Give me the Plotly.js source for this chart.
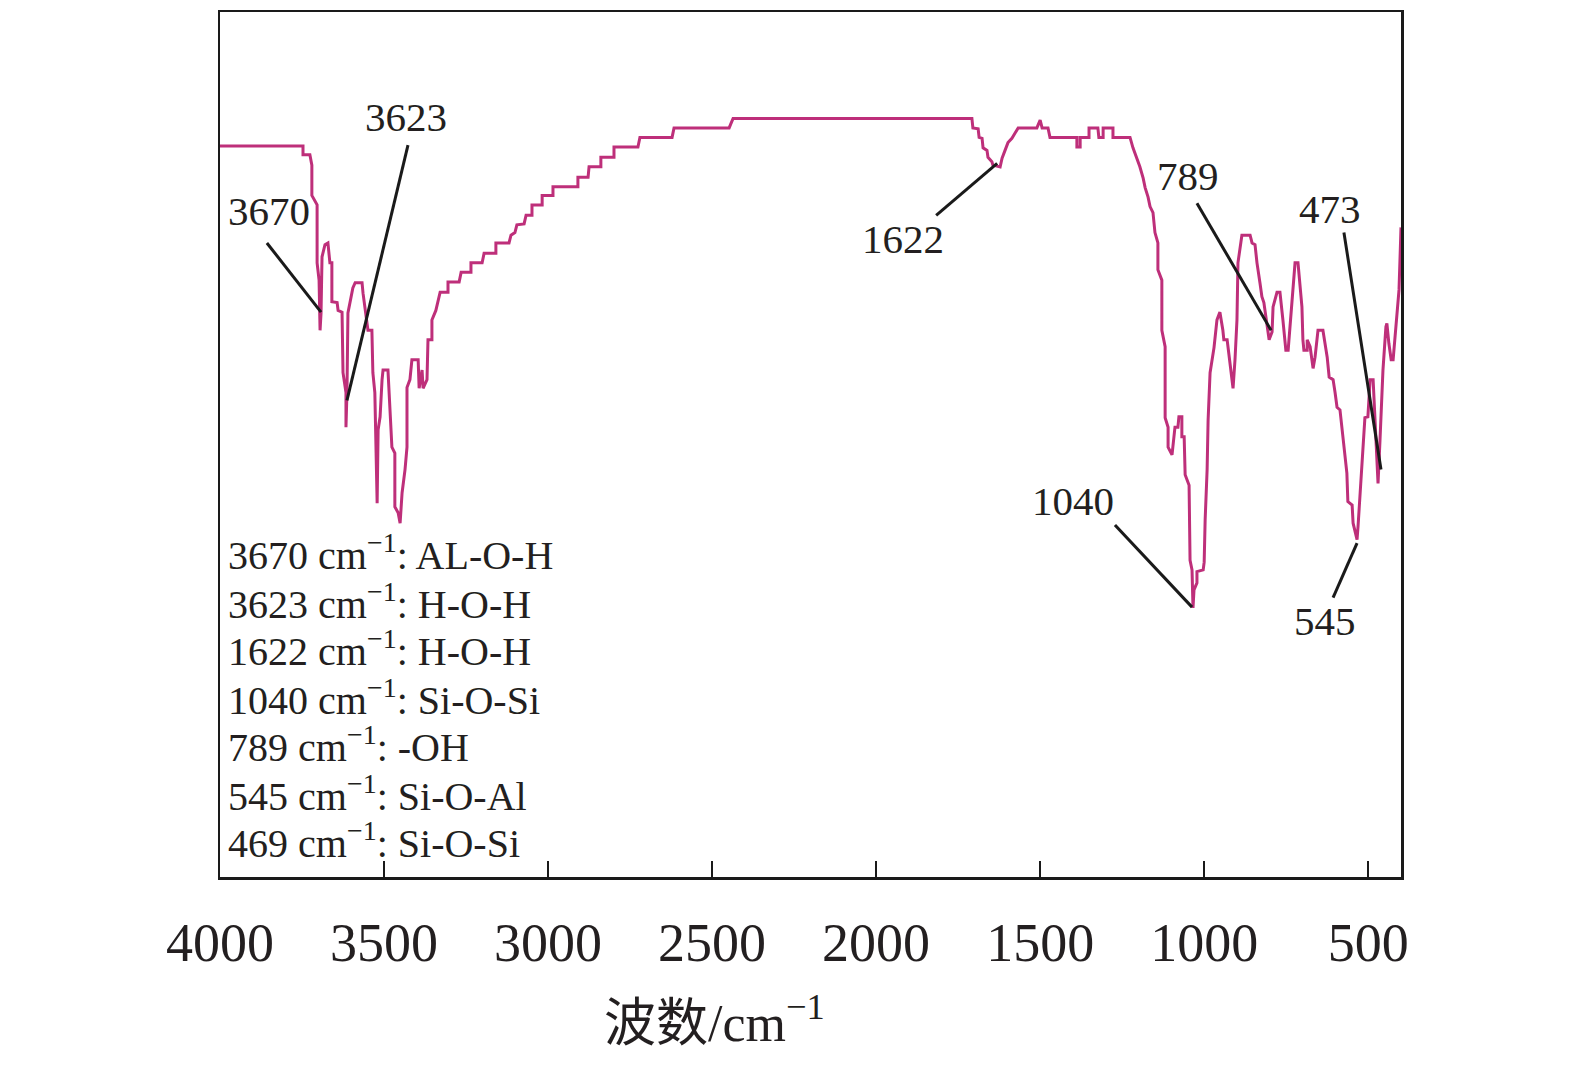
<!DOCTYPE html>
<html>
<head>
<meta charset="utf-8">
<script src="https://cdn.plot.ly/plotly-3.0.1.min.js"></script>
<style>
  html, body { margin: 0; padding: 0; background: #ffffff; }
  #chart { width: 1575px; height: 1073px; }
</style>
</head>
<body>
<div id="chart"></div>
<script>
// ---- Data ----
const wavenumber = [
  4000, 3747, 3747, 3726, 3720, 3720, 3704, 3704, 3698, 3695, 3695, 3692, 3689, 3680, 3671, 3665, 3659, 3659,
  3643, 3640, 3628, 3625, 3616, 3616, 3613, 3610, 3604, 3595, 3588, 3567, 3564, 3552, 3549, 3537, 3534, 3528,
  3521, 3518, 3512, 3506, 3503, 3488, 3485, 3476, 3467, 3467, 3457, 3451, 3445, 3436, 3430, 3430, 3421, 3415,
  3396, 3393, 3384, 3381, 3369, 3366, 3354, 3354, 3342, 3335, 3329, 3305, 3305, 3271, 3265, 3235, 3235, 3201,
  3195, 3159, 3159, 3119, 3113, 3101, 3095, 3073, 3067, 3049, 3049, 3018, 3018, 2985, 2985, 2909, 2909, 2878,
  2875, 2839, 2839, 2799, 2799, 2726, 2720, 2622, 2616, 2448, 2436, 1708, 1705, 1689, 1686, 1677, 1674, 1662,
  1659, 1647, 1644, 1622, 1616, 1607, 1598, 1586, 1577, 1567, 1510, 1500, 1494, 1476, 1470, 1388, 1388, 1378,
  1378, 1351, 1351, 1324, 1321, 1308, 1308, 1278, 1278, 1226, 1217, 1205, 1196, 1186, 1180, 1171, 1165, 1156,
  1150, 1141, 1141, 1129, 1129, 1119, 1119, 1110, 1110, 1098, 1095, 1089, 1080, 1077, 1068, 1068, 1061, 1058,
  1046, 1043, 1037, 1034, 1031, 1022, 1022, 1003, 1000, 997, 991, 988, 982, 973, 970, 961, 952, 943, 940, 930,
  921, 912, 906, 900, 897, 885, 860, 854, 845, 839, 830, 824, 818, 808, 802, 793, 790, 778, 769, 760, 751, 744,
  732, 723, 714, 702, 699, 696, 686, 686, 677, 668, 662, 653, 638, 632, 625, 619, 607, 601, 595, 586, 580, 571,
  565, 562, 549, 546, 534, 531, 525, 516, 510, 501, 494, 485, 482, 473, 470, 464, 458, 455, 446, 443, 437, 430,
  424, 418, 412, 406, 400
];
const transmittance = [
  84.5, 84.5, 83.5, 83.5, 82.3, 78.8, 77.7, 71.0, 69.0, 65.2, 63.2, 65.2, 71.7, 73.1, 73.3, 71.0, 71.0, 66.5,
  66.4, 65.5, 65.3, 58.3, 56.0, 52.0, 56.0, 65.2, 66.4, 68.1, 68.7, 68.7, 67.5, 64.4, 63.2, 63.2, 58.3, 56.0,
  43.2, 51.7, 53.2, 57.5, 58.6, 58.6, 56.3, 49.7, 49.0, 42.8, 42.1, 40.9, 44.4, 47.1, 49.7, 56.6, 57.5, 59.8,
  59.8, 56.5, 58.6, 56.5, 57.5, 62.1, 62.1, 64.4, 65.5, 66.5, 67.6, 67.6, 68.8, 68.8, 69.9, 69.9, 71.0, 71.0,
  72.1, 72.1, 73.3, 73.3, 74.2, 74.5, 75.4, 75.5, 76.5, 76.5, 77.7, 77.7, 78.8, 78.8, 79.8, 79.8, 80.9, 80.9,
  82.1, 82.1, 83.2, 83.2, 84.4, 84.4, 85.5, 85.5, 86.6, 86.6, 87.7, 87.7, 86.6, 86.5, 85.5, 85.4, 84.3, 84.0,
  83.2, 82.7, 82.3, 82.1, 83.1, 84.0, 84.9, 85.4, 86.0, 86.6, 86.6, 87.5, 86.6, 86.6, 85.5, 85.5, 84.4, 84.4,
  85.5, 85.5, 86.6, 86.6, 85.5, 85.5, 86.6, 86.6, 85.5, 85.5, 84.3, 83.1, 82.1, 80.8, 79.7, 78.6, 77.5, 76.8,
  74.5, 73.3, 70.2, 69.0, 63.2, 61.3, 53.1, 52.0, 49.7, 48.8, 49.7, 52.0, 52.0, 53.2, 53.2, 50.9, 50.9, 46.5,
  45.3, 36.6, 35.5, 31.1, 33.2, 34.0, 35.3, 35.5, 36.4, 41.3, 47.1, 52.8, 58.3, 60.6, 61.2, 64.4, 65.3, 63.2, 62.1, 62.1,
  59.0, 56.5, 59.8, 64.4, 71.0, 74.2, 74.2, 73.3, 73.1, 71.0, 68.7, 67.1, 66.4, 63.6, 62.1, 63.0, 65.9, 67.6, 67.6, 64.4, 60.9, 60.9,
  67.1, 71.0, 71.0, 65.9, 62.1, 60.9, 60.9, 62.1, 61.3, 58.8, 60.1, 63.2, 63.2, 61.7, 60.1, 57.8, 57.5, 56.0, 54.3, 54.0, 52.0, 49.4,
  46.7, 43.4, 43.0, 40.9, 39.0, 40.5, 44.4, 49.0, 53.1, 53.2, 57.5, 57.5, 55.1, 47.4, 45.5, 50.5, 55.1, 58.6, 63.6, 64.0, 61.7, 59.8,
  59.8, 62.4, 65.9, 67.9, 75.1
];

// Peak annotations: label text and the point on the curve each leader line touches
const peakLabels = ['3670', '3623', '1622', '1040', '789', '473', '545'];
const peakWn     = [3692, 3613, 1631, 1037, 796, 461, 534];
const peakT      = [65.3, 55.1, 82.5, 31.2, 63.2, 47.1, 38.6];

// Band assignment list
const assignments = [
  '3670 cm<sup>−1</sup>: AL-O-H',
  '3623 cm<sup>−1</sup>: H-O-H',
  '1622 cm<sup>−1</sup>: H-O-H',
  '1040 cm<sup>−1</sup>: Si-O-Si',
  '789 cm<sup>−1</sup>: -OH',
  '545 cm<sup>−1</sup>: Si-O-Al',
  '469 cm<sup>−1</sup>: Si-O-Si'
];

const xTicks = [4000, 3500, 3000, 2500, 2000, 1500, 1000, 500];
const xTitle = '波数/cm<sup>−1</sup>';

// ---- Placement of label text and leader-line tails (layout, not data) ----
const labelPlacement = [
  { tx: 3851, ty: 77.0, lx: 3857, ly: 73.3 },
  { tx: 3433, ty: 87.9, lx: 3427, ly: 84.6 },
  { tx: 1918, ty: 73.8, lx: 1817, ly: 76.5 },
  { tx: 1400, ty: 43.5, lx: 1272, ly: 40.7 },
  { tx: 1049, ty: 81.0, lx: 1022, ly: 77.9 },
  { tx: 616,  ty: 77.2, lx: 574,  ly: 74.5 },
  { tx: 632,  ty: 29.6, lx: 607,  ly: 32.3 }
];
const assignX = 3982;
const assignY = [37.5, 31.9, 26.4, 20.8, 15.3, 9.7, 4.2];

const FONT = '"Liberation Serif", "Times New Roman", "Noto Sans CJK SC", serif';
const TXT = '#231f20';

const trace = {
  type: 'scatter',
  mode: 'lines',
  x: wavenumber,
  y: transmittance,
  line: { color: '#be2f7a', width: 3 },
  hoverinfo: 'x+y',
  showlegend: false
};

const annotations = [];
const shapes = [];
peakLabels.forEach((lab, i) => {
  const p = labelPlacement[i];
  annotations.push({
    x: p.tx, y: p.ty, xref: 'x', yref: 'y', text: lab, showarrow: false,
    xanchor: 'center', yanchor: 'middle', font: { family: FONT, size: 41, color: TXT }
  });
  shapes.push({
    type: 'line', xref: 'x', yref: 'y', x0: p.lx, y0: p.ly, x1: peakWn[i], y1: peakT[i],
    line: { color: '#1a1a1a', width: 3 }
  });
});
assignments.forEach((t, i) => {
  annotations.push({
    x: assignX, y: assignY[i], xref: 'x', yref: 'y', text: t, showarrow: false,
    xanchor: 'left', yanchor: 'middle', font: { family: FONT, size: 40, color: TXT }
  });
});
// x-axis title, placed left of centre as in the reference
annotations.push({
  x: 0.419, y: -0.165, xref: 'paper', yref: 'paper', text: xTitle, showarrow: false,
  xanchor: 'center', yanchor: 'middle', font: { family: FONT, size: 52, color: TXT }
});

const layout = {
  width: 1575, height: 1073,
  margin: { l: 220, r: 174, t: 12, b: 196 },
  paper_bgcolor: '#ffffff', plot_bgcolor: '#ffffff',
  font: { family: FONT, color: TXT },
  xaxis: {
    range: [4000, 400], tickmode: 'array', tickvals: xTicks, ticktext: xTicks.map(String),
    ticks: 'inside', ticklen: 16, tickwidth: 2.5, tickcolor: '#1a1a1a',
    showline: true, linecolor: '#1a1a1a', linewidth: 2.5, mirror: true,
    showgrid: false, zeroline: false,
    tickfont: { family: FONT, size: 54, color: TXT },
    ticklabelstandoff: 17
  },
  yaxis: {
    range: [0, 100], showticklabels: false, ticks: '',
    showline: true, linecolor: '#1a1a1a', linewidth: 2.5, mirror: true,
    showgrid: false, zeroline: false
  },
  annotations: annotations,
  shapes: shapes
};

Plotly.newPlot('chart', [trace], layout, { displayModeBar: false, staticPlot: true });
</script>
</body>
</html>
